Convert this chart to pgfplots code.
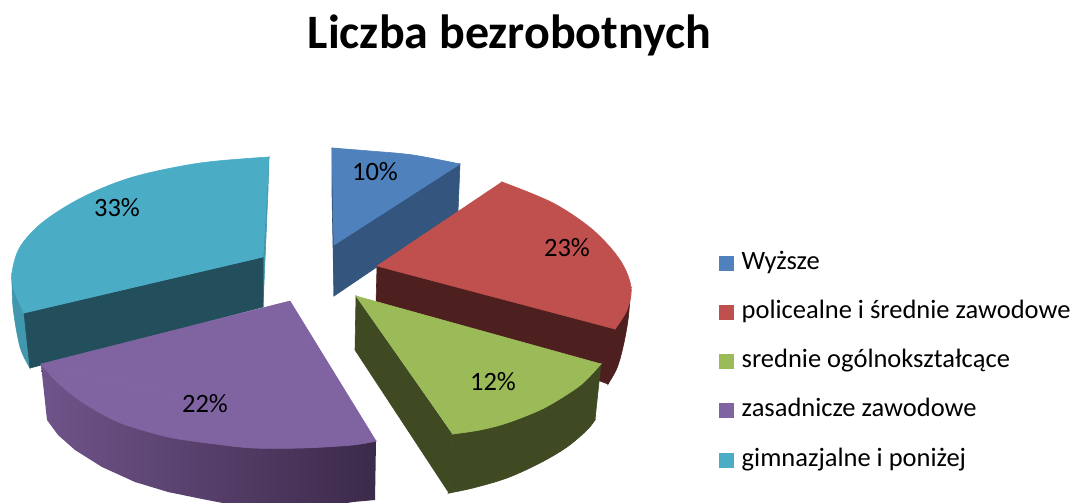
\documentclass[border=0pt]{standalone}
\usepackage{pgfplots}
\pgfplotsset{compat=1.18}
\usepackage{fontspec}
\setmainfont{Carlito}
\definecolor{cb}{HTML}{4F81BD}\definecolor{cbd}{HTML}{34567E}
\definecolor{cr}{HTML}{C0504D}\definecolor{crd}{HTML}{4D1F1F}
\definecolor{cg}{HTML}{9BBB59}\definecolor{cgd}{HTML}{3F4A23}
\definecolor{cp}{HTML}{8064A2}\definecolor{cpa}{HTML}{6F548A}\definecolor{cpb}{HTML}{3C2A4A}
\definecolor{ct}{HTML}{4BACC6}\definecolor{ctd}{HTML}{234E5C}\definecolor{cts}{HTML}{4197AE}
\newcommand{\face}[2]{\addplot[fill=#1,draw=#1,line width=0.6pt,no marks,forget plot] coordinates {#2} --cycle;}
\newcommand{\capf}[2]{\addplot[fill=#1,draw=#1,line width=0.6pt,no marks,forget plot,smooth,tension=0.55] coordinates {#2} --cycle;}
\begin{document}
\begin{tikzpicture}
\useasboundingbox (0,0) rectangle (1076pt,503pt);
\begin{axis}[
  at={(0,0)},anchor=south west,
  scale only axis,width=1076pt,height=503pt,
  xmin=0,xmax=1076,ymin=0,ymax=503,y dir=reverse,
  axis lines=none,clip=true,
  legend image code/.code={\path[#1,draw=none] (0pt,-7.5pt) rectangle (15pt,7.5pt);},
  legend style={at={(axis cs:719,251)},anchor=north west,draw=none,fill=none,inner sep=0pt,
    row sep=25.2pt,column sep=7.5pt,font=\fontsize{26.5}{30}\selectfont,
    nodes={inner sep=0pt,text height=18pt,text depth=6pt}},
  legend cell align=left,
]
% teal
\capf{cts}{(12,273)(13,307)(20,347)(30,368)}
\face{cts}{(12,273)(30,368)(24,313)}
\face{cts}{(269,157)(268,190)(263,307)(263,257)}
\face{ctd}{(24,313)(263,257)(263,307)(30,368)}
\capf{ct}{(269,157)(200,163)(133,177)(83,197)(43,222)(20,247)(12,273)(14,290)(24,313)}
\face{ct}{(269,157)(263,257)(24,313)}
% blue
\face{cbd}{(332,148)(332,195)(334,296)(334,245)}
\face{cbd}{(460,164)(458,212)(334,296)(334,245)}
\capf{cb}{(332,148)(370,151)(413,155)(460,164)}
\face{cb}{(332,148)(460,164)(334,245)}
% red
\capf{crd}{(631,287)(628,320)(623,347)(617,368)(608,384)}
\face{crd}{(377,266)(631,287)(608,384)(600,381)(376,305)}
\capf{cr}{(502,182)(553,203)(593,230)(620,260)(631,287)(627,310)(615,329)}
\face{cr}{(377,266)(502,182)(615,329)}
% green
\face{cgd}{(356,296)(452,434)(449,493)(355,350)}
\capf{cgd}{(449,493)(473,488)(507,478)(540,463)(567,447)(587,430)(595,420)}
\face{cgd}{(449,493)(595,420)(601,363)(452,434)}
\capf{cg}{(601,364)(583,383)(563,397)(540,410)(507,423)(480,430)(453,434)}
\face{cg}{(356,296)(601,364)(453,434)}
% purple wall
\addplot[left color=cpa,right color=cpb,draw=none,no marks,forget plot] coordinates {(41,365)(47,420)(58,435)(75,450)(102,467)(135,482)(168,492)(202,499)(228,504)(253,507)(280,509)(305,508)(330,506)(353,502)(375,500)(376,441)} --cycle;
\capf{cp}{(41,364)(55,380)(75,397)(95,410)(118,422)(142,430)(168,437)(192,441)(215,444)(253,448)(303,448)(353,445)(376,441)}
\face{cp}{(290,301)(376,441)(41,364)}
% labels
\node[font=\fontsize{48}{48}\selectfont\bfseries] at (axis cs:509.5,35) {Liczba bezrobotnych};
\begin{scope}[every node/.style={font=\fontsize{26.5}{30}\selectfont,inner sep=0pt}]
\node at (axis cs:375,172) {10\%};
\node at (axis cs:567,248) {23\%};
\node at (axis cs:493,382) {12\%};
\node at (axis cs:205,404) {22\%};
\node at (axis cs:117,208) {33\%};
\end{scope}
\addlegendimage{fill=cb}\addlegendentry{Wyższe}
\addlegendimage{fill=cr}\addlegendentry{policealne i średnie zawodowe}
\addlegendimage{fill=cg}\addlegendentry{srednie ogólnokształcące}
\addlegendimage{fill=cp}\addlegendentry{zasadnicze zawodowe}
\addlegendimage{fill=ct}\addlegendentry{gimnazjalne i poniżej}
\end{axis}
\end{tikzpicture}
\end{document}
